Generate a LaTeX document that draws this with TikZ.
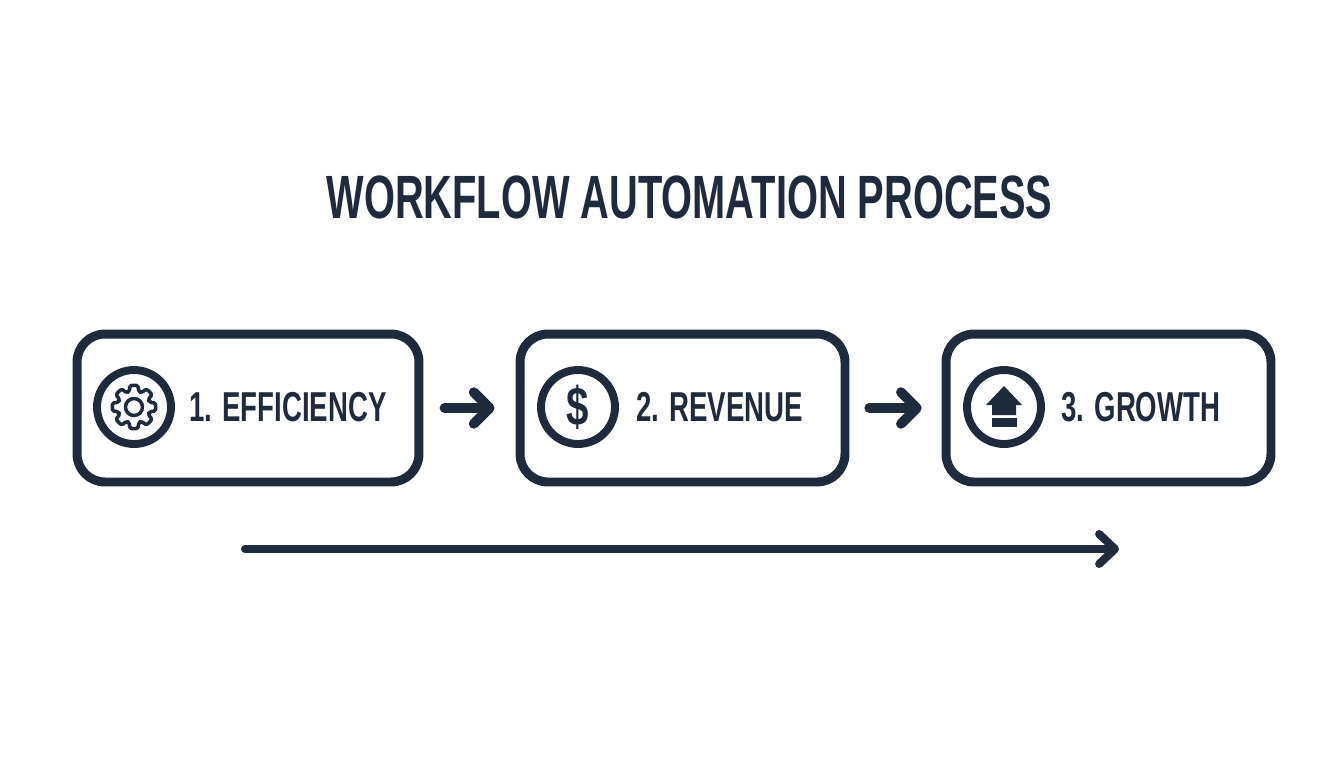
\documentclass[tikz,border=0pt]{standalone}
\usepackage{fontspec}
\usepackage{tikz}
\usetikzlibrary{arrows.meta, positioning}
\newfontfamily\capsfont[FakeStretch=0.66]{Liberation Sans}
\newfontfamily\titlefont[FakeStretch=0.651]{Liberation Sans}
\newfontfamily\signfont[FakeStretch=0.74]{Liberation Sans}
\definecolor{ink}{HTML}{1F2B3D}
\tikzstyle{stepbox} = [rectangle, draw=ink, line width=5.1pt, rounded corners=0.56cm, minimum height=2.96cm]
\tikzstyle{badge} = [circle, draw=ink, line width=4.5pt, minimum size=1.48cm, inner sep=0pt]
\tikzstyle{steplabel} = [text=ink, font=\capsfont\bfseries\fontsize{23.8}{26}\selectfont, anchor=west, inner sep=0pt]
\tikzstyle{flow} = [-{Straight Barb[round, length=9pt, width=18pt, line width=5.6pt]}, draw=ink, line width=5.6pt, line cap=round]
\tikzstyle{longflow} = [-{Straight Barb[round, length=9pt, width=17pt, line width=4.6pt]}, draw=ink, line width=4.6pt, line cap=round]
\tikzstyle{gearline} = [draw=ink, line width=2pt, line join=round]

\begin{document}
\begin{tikzpicture}[x=0.02cm, y=-0.02cm]
  \useasboundingbox (0,0) rectangle (1344,768);
  \node[text=ink, font=\titlefont\bfseries\fontsize{34.8}{38}\selectfont, inner sep=0pt] (title) at (689.5,197) {WORKFLOW AUTOMATION PROCESS};

  % boxes
  \node[stepbox, minimum width=6.84cm] (efficiency) at (248,408) {};
  \node[stepbox, minimum width=6.5cm] (revenue) at (682.5,408) {};
  \node[stepbox, minimum width=6.5cm] (growth) at (1108.5,408) {};

  % icons
  \node[badge] (gear) at (134,407) {};
  \node[badge] (dollar) at (578,407) {\signfont\bfseries\fontsize{31}{31}\selectfont\textcolor{ink}{\$}};
  \node[badge] (upload) at (1004,407) {};

  \begin{scope}[shift={(134,407)}]
    \draw[gearline, rounded corners=1pt] (-17:16) \foreach \a in {0,45,...,315} { -- (\a-11:22) -- (\a+11:22) -- (\a+17:16) -- (\a+28:16) } -- cycle;
    \draw[gearline] (0,0) circle (8.5);
  \end{scope}
  \fill[ink] (1004,386) -- (1022,405) -- (1016,405) -- (1016,415) -- (992,415) -- (992,405) -- (986,405) -- cycle;
  \fill[ink] (992,418) rectangle (1017,427);

  % labels
  \node[steplabel] (efficiencytext) at (189,407) {1. EFFICIENCY};
  \node[steplabel] (revenuetext) at (636,407) {2. REVENUE};
  \node[steplabel] (growthtext) at (1061,407) {3. GROWTH};

  % arrows
  \draw[flow, shorten <=12pt, shorten >=12pt] (efficiency) -- (revenue);
  \draw[flow, shorten <=11.3pt, shorten >=11.3pt] (revenue) -- (growth);
  \coordinate (timestart) at (245,549);
  \coordinate (timeend) at (1119,549);
  \draw[longflow] (timestart) -- (timeend);
\end{tikzpicture}
\end{document}
